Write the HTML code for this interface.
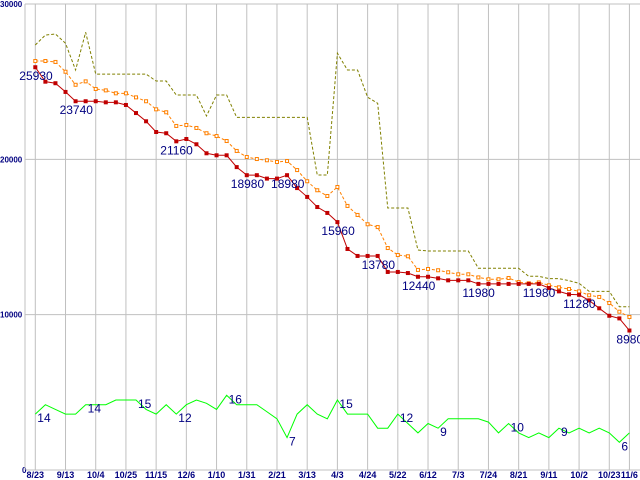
<!DOCTYPE html>
<html><head><meta charset="utf-8"><style>
html,body{margin:0;padding:0;background:#fff;}
svg{display:block;font-family:"Liberation Sans",sans-serif;}
</style></head><body>
<svg id="chart" width="640" height="480" viewBox="0 0 640 480"></svg>
<script>
const xLabels=["8/23","9/13","10/4","10/25","11/15","12/6","1/10","1/31","2/21","3/13","4/3","4/24","5/22","6/12","7/3","7/24","8/21","9/11","10/2","10/23","11/6"];
const xLabelIdx=[0,3,6,9,12,15,18,21,24,27,30,33,36,39,42,45,48,51,54,57,59];
const yTicks=[0,10000,20000,30000];
const redVals=[25930,25000,24900,24340,23740,23740,23740,23670,23670,23500,22980,22450,21760,21680,21160,21310,20970,20390,20260,20260,19500,18980,18980,18760,18760,18980,18150,17580,16930,16550,15960,14230,13780,13780,13780,12750,12750,12680,12440,12440,12340,12210,12210,12210,11980,11980,11980,11980,11980,11980,11980,11720,11500,11310,11280,10920,10410,9930,9760,8980];
const orangeVals=[26330,26330,26270,25640,24800,25020,24530,24440,24250,24250,23990,23740,23220,23030,22150,22210,22020,21680,21500,21180,20540,20150,20020,19940,19830,19890,19310,18590,18010,17640,18220,17000,16420,15820,15640,14290,13840,13760,12880,12940,12860,12730,12600,12600,12400,12280,12280,12360,12100,12020,12080,11890,11760,11650,11500,11250,11140,10750,10190,9850];
const oliveVals=[27360,28000,28070,27470,25750,28180,25490,25490,25490,25490,25490,25490,25040,25040,24140,24140,24140,22790,24140,24140,22700,22700,22700,22700,22700,22700,22700,22700,18990,18990,26830,25750,25750,24000,23610,16870,16870,16870,14160,14100,14100,14100,14100,14100,12990,12990,12990,12990,12990,12470,12470,12320,12320,12190,12020,11500,11500,11500,10510,10510];
const greenVals=[12,14,13,12,12,14,14,14,15,15,15,13,12,14,12,14,15,14.3,13,16,14,14,14,12.5,11,7,12,14,12,11,15,12,12,12,9,9,12,10,8,10,9,11,11,11,11,10.3,8,10,8,7,8,7,9,8,9,8,9,8,6,8];
const redLabelIdx=[0,4,14,21,25,30,34,38,44,50,54,59];
const redLabelText=["25930","23740","21160","18980","18980","15960","13780","12440","11980","11980","11280","8980"];
const greenLabelIdx=[0,5,10,14,19,25,30,36,40,47,52,58];
const greenLabelText=["14","14","15","12","16","7","15","12","9","10","9","6"];

const NS="http://www.w3.org/2000/svg";
const svg=document.getElementById('chart');
function X(i){return 35.3+i*10.07;}
function Y(v){return 470-v*0.015533;}
function GY(v){return 395.3+(16-v)*4.7;}
function mk(t,a){const e=document.createElementNS(NS,t);for(const k in a)e.setAttribute(k,a[k]);svg.appendChild(e);return e;}

yTicks.forEach((t,k)=>{
  const l=mk('line',{x1:25,x2:640,y1:Y(t),y2:Y(t),stroke:'#c0c0c0','stroke-width':1});
  
  
  const tx=mk('text',{x:t===0?22:0,y:Y(t)+3,'font-size':8,'font-weight':'bold',fill:'#000080'});
  tx.textContent=String(t);
  
  
});
xLabelIdx.forEach((ix,k)=>{
  const l=mk('line',{x1:X(ix),x2:X(ix),y1:4,y2:470,stroke:'#c0c0c0','stroke-width':1});
  
  
  const tx=mk('text',{x:X(ix),y:478,'font-size':9,'font-weight':'bold',fill:'#000080','text-anchor':'middle'});
  tx.textContent=xLabels[k];
  
  
});
const ax=mk('line',{x1:25,x2:25,y1:4,y2:470,stroke:'#c0c0c0','stroke-width':1});



function line(vals,fy,col,dash,name){
  const p=mk('polyline',{points:vals.map((v,i)=>X(i)+','+fy(v)).join(' '),fill:'none',stroke:col,'stroke-width':1,'stroke-dasharray':dash||'none'});
  
  
}
line(greenVals,GY,'#00ff00',null,'count-line');
line(oliveVals,Y,'#808000','3,2','max-price-line');
line(orangeVals,Y,'#ff8000','3,2','avg-price-line');
orangeVals.forEach((v,i)=>{
  const r=mk('rect',{x:X(i)-1.5,y:Y(v)-1.5,width:3,height:3,fill:'#fff',stroke:'#ff8000','stroke-width':1});
  
  
});
line(redVals,Y,'#c00000',null,'min-price-line');
redVals.forEach((v,i)=>{
  const r=mk('rect',{x:X(i)-2,y:Y(v)-2,width:4,height:4,fill:'#c00000'});
  
  
});
redLabelIdx.forEach((ix,k)=>{
  const tx=mk('text',{x:X(ix)-16,y:Y(redVals[ix])+13,'font-size':12,fill:'#000080'});
  if(ix===59){tx.setAttribute('x',X(ix)-13);}
  tx.textContent=redLabelText[k];
  
  
});
greenLabelIdx.forEach((ix,k)=>{
  const tx=mk('text',{x:X(ix)+2,y:GY(greenVals[ix])+8,'font-size':12,fill:'#000080'});
  tx.textContent=greenLabelText[k];
  
  
});
</script>
</body></html>
